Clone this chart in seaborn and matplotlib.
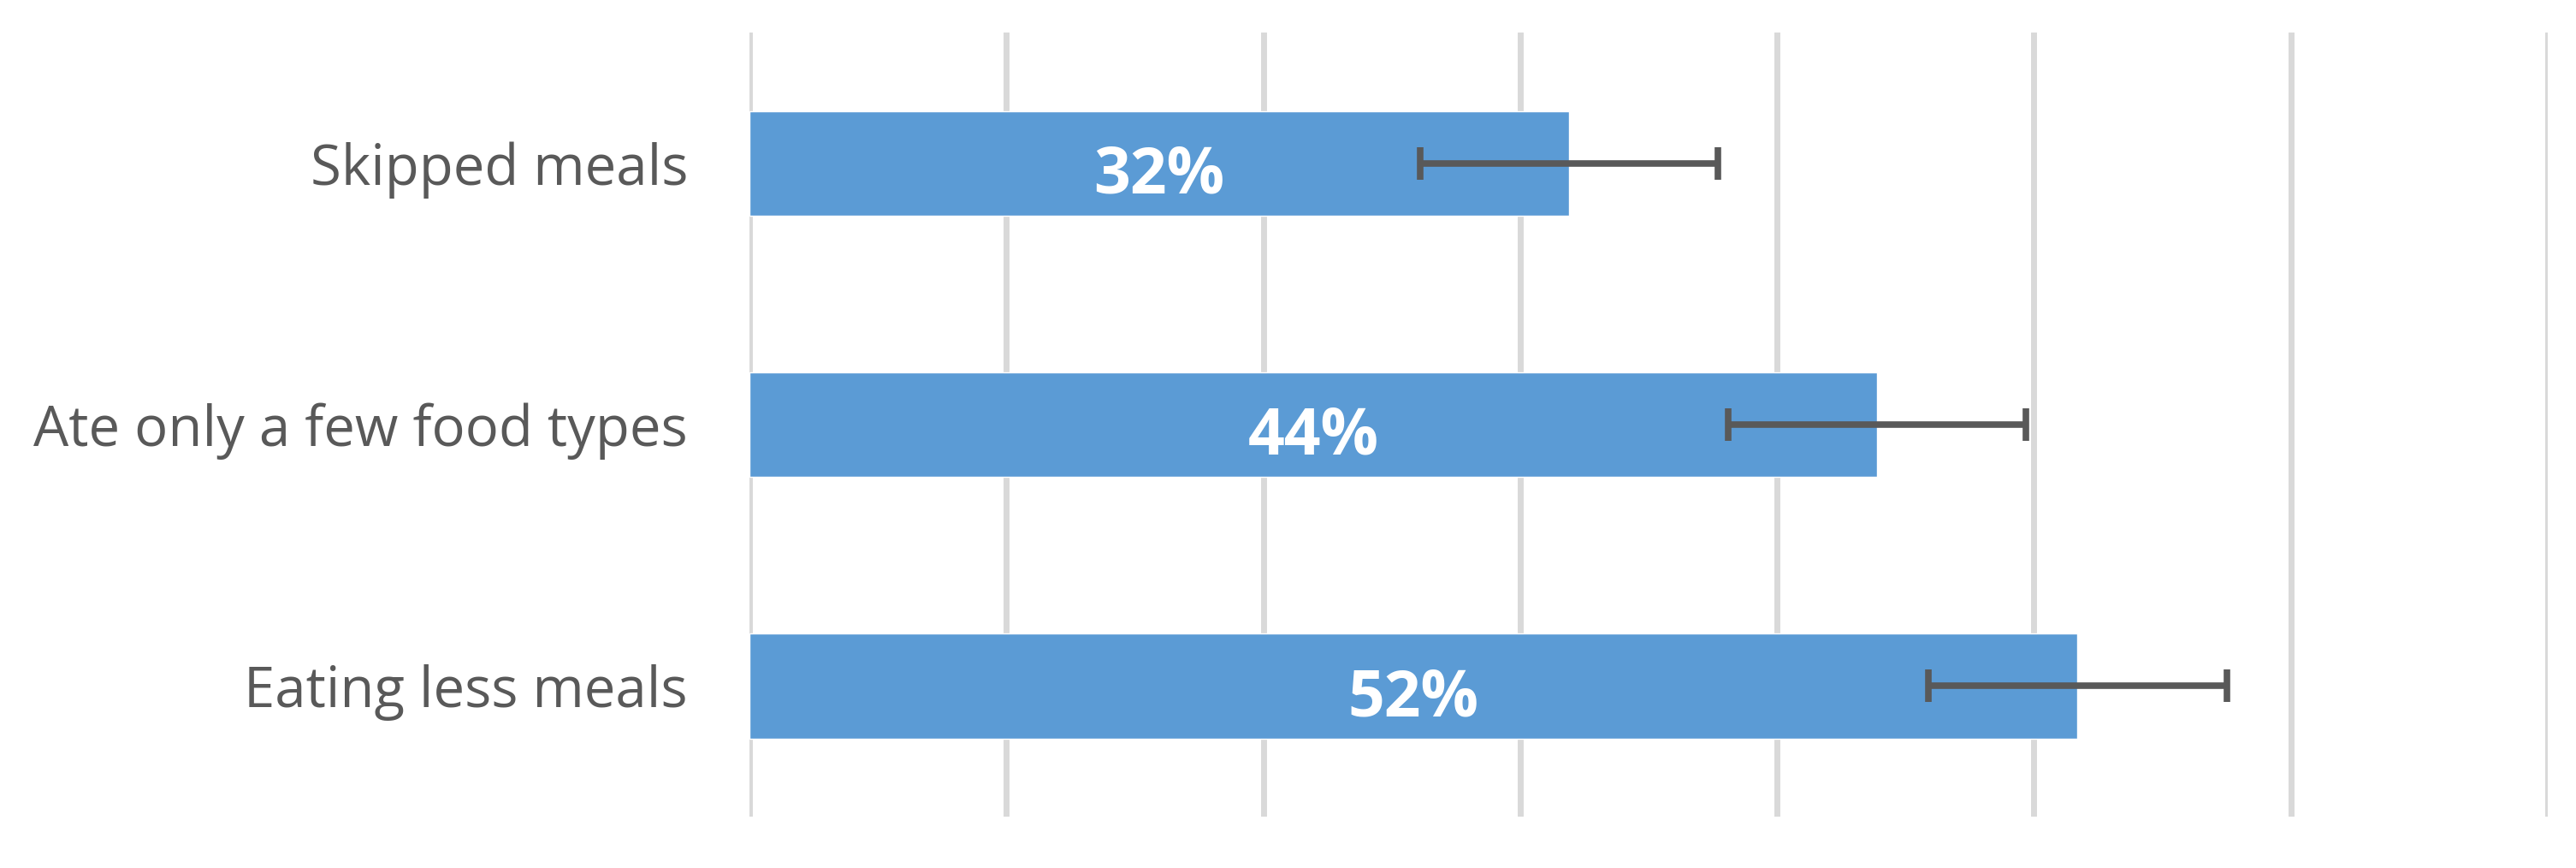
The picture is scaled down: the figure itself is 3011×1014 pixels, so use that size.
import numpy as np
import pandas as pd
import matplotlib
matplotlib.use("Agg")
import matplotlib.pyplot as plt
import seaborn as sns

# ---------------------------------------------------------------------------
# Data
# ---------------------------------------------------------------------------
categories = ["Skipped meals", "Ate only a few food types", "Eating less meals"]
values = [31.9, 43.9, 51.7]
errors = [5.8, 5.8, 5.8]
x_ticks = [0, 10, 20, 30, 40, 50, 60, 70]

BAR_COLOR = "#5B9BD5"
TEXT_COLOR = "#595959"
GRID_COLOR = "#D9D9D9"

sns.set_style("white")
plt.rcParams["font.family"] = ["Open Sans", "DejaVu Sans"]

df = pd.DataFrame({"category": categories, "value": values, "err": errors})

fig = plt.figure(figsize=(30.11, 10.14), dpi=100)
ax = fig.add_axes([0.291, 0.059, 0.698, 0.9035])

sns.barplot(data=df, x="value", y="category", orient="h", color=BAR_COLOR,
            width=0.4, saturation=1, errorbar=None, ax=ax, zorder=2)

# error bars centred on the bar ends
ax.errorbar(df["value"], np.arange(len(df)), xerr=df["err"], fmt="none",
            ecolor=TEXT_COLOR, elinewidth=5.5, capsize=14, capthick=5.5, zorder=3)

# value labels in the middle of each bar
for i, v in enumerate(values):
    ax.text(v / 2, i + 0.02, f"{v:.0f}%", ha="center", va="center_baseline",
            color="white", fontsize=54, fontweight="bold", zorder=4)

ax.set_xlim(0, 70)
ax.set_ylim(2.5, -0.5)
ax.set_xticks(x_ticks)
ax.set_xticklabels([])
ax.xaxis.grid(True, color=GRID_COLOR, linewidth=5)
ax.set_axisbelow(True)
ax.set_xlabel("")
ax.set_ylabel("")
ax.tick_params(axis="both", length=0)
ax.tick_params(axis="y", labelsize=47, labelcolor=TEXT_COLOR, pad=52)
for lbl in ax.get_yticklabels():
    lbl.set_verticalalignment("center_baseline")
for spine in ax.spines.values():
    spine.set_visible(False)

fig.savefig("out.png", dpi=100, facecolor="white")
